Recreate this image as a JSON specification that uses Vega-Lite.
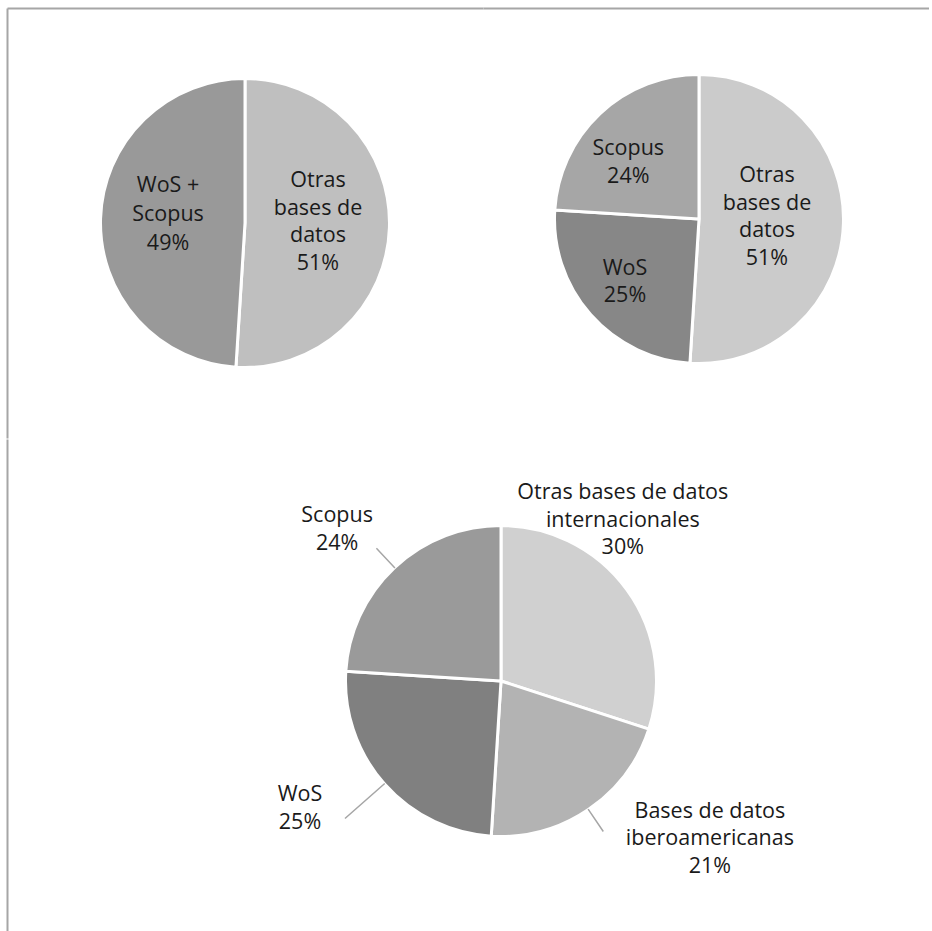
{
  "$schema": "https://vega.github.io/schema/vega-lite/v6.json",
  "padding": {"left": 7, "top": 8, "right": 0, "bottom": 0},
  "autosize": {"type": "pad"},
  "background": "white",
  "config": {
    "view": {"stroke": null},
    "text": {"font": "Open Sans", "fontSize": 21.5, "fill": "#1a1a1a", "lineHeight": 27.5, "lineBreak": "\n", "align": "center", "baseline": "middle"},
    "axis": {"domainColor": "#a6a6a6", "domainWidth": 2, "ticks": false, "labels": false, "grid": false, "minExtent": 0, "maxExtent": 0, "offset": 0, "tickSize": 0, "labelPadding": 0}
  },
  "datasets": {
    "resumen": [
      {"categoria": "Otras bases de datos", "etiqueta": "Otras\nbases de\ndatos\n51%", "proporcion": 0.51, "orden": 1},
      {"categoria": "WoS + Scopus", "etiqueta": "WoS +\nScopus\n49%", "proporcion": 0.49, "orden": 2}
    ],
    "wos_scopus": [
      {"categoria": "Otras bases de datos", "etiqueta": "Otras\nbases de\ndatos\n51%", "proporcion": 0.51, "orden": 1},
      {"categoria": "WoS", "etiqueta": "WoS\n25%", "proporcion": 0.25, "orden": 2},
      {"categoria": "Scopus", "etiqueta": "Scopus\n24%", "proporcion": 0.24, "orden": 3}
    ],
    "detalle": [
      {"categoria": "Otras bases de datos internacionales", "etiqueta": "Otras bases de datos\ninternacionales\n30%", "proporcion": 0.30, "orden": 1},
      {"categoria": "Bases de datos iberoamericanas", "etiqueta": "Bases de datos\niberoamericanas\n21%", "proporcion": 0.21, "orden": 2},
      {"categoria": "WoS", "etiqueta": "WoS\n25%", "proporcion": 0.25, "orden": 3},
      {"categoria": "Scopus", "etiqueta": "Scopus\n24%", "proporcion": 0.24, "orden": 4}
    ]
  },
  "spacing": -11,
  "resolve": {"scale": {"color": "independent", "theta": "independent"}},
  "vconcat": [
    {
      "spacing": 0,
      "bounds": "flush",
      "resolve": {"scale": {"color": "independent", "theta": "independent"}},
      "hconcat": [
        {
          "width": 476,
          "height": 430,
          "data": {"name": "resumen"},
          "layer": [
            {
              "mark": {"type": "point", "opacity": 0},
              "encoding": {
                "x": {"field": "proporcion", "type": "quantitative", "axis": {"orient": "top", "title": null}},
                "y": {"field": "proporcion", "type": "quantitative", "axis": {"orient": "left", "title": null}}
              }
            },
            {
              "mark": {"type": "arc", "outerRadius": 144.5, "stroke": "#ffffff", "strokeWidth": 3, "strokeJoin": "bevel"},
              "encoding": {
                "theta": {"field": "proporcion", "type": "quantitative", "stack": true},
                "order": {"field": "orden", "type": "quantitative"},
                "color": {"field": "categoria", "type": "nominal", "legend": null,
                  "scale": {"domain": ["Otras bases de datos", "WoS + Scopus"], "range": ["#bfbfbf", "#999999"]}}
              }
            },
            {
              "mark": {"type": "text", "radius": 73, "dy": -44},
              "encoding": {
                "theta": {"field": "proporcion", "type": "quantitative", "stack": true},
                "order": {"field": "orden", "type": "quantitative"},
                "text": {"condition": {"test": "datum.orden === 1", "field": "etiqueta", "type": "nominal"}, "value": ""}
              }
            },
            {
              "mark": {"type": "text", "radius": 77, "dy": -35, "lineHeight": 29},
              "encoding": {
                "theta": {"field": "proporcion", "type": "quantitative", "stack": true},
                "order": {"field": "orden", "type": "quantitative"},
                "text": {"condition": {"test": "datum.orden === 2", "field": "etiqueta", "type": "nominal"}, "value": ""}
              }
            }
          ]
        },
        {
          "width": 432,
          "height": 422,
          "data": {"name": "wos_scopus"},
          "layer": [
            {
              "mark": {"type": "point", "opacity": 0},
              "encoding": {
                "x": {"field": "proporcion", "type": "quantitative", "scale": {"range": [0, 446]}, "axis": {"orient": "top", "title": null}}
              }
            },
            {
              "mark": {"type": "arc", "outerRadius": 144.5, "stroke": "#ffffff", "strokeWidth": 3, "strokeJoin": "bevel"},
              "encoding": {
                "theta": {"field": "proporcion", "type": "quantitative", "stack": true},
                "order": {"field": "orden", "type": "quantitative"},
                "color": {"field": "categoria", "type": "nominal", "legend": null,
                  "scale": {"domain": ["Otras bases de datos", "WoS", "Scopus"], "range": ["#cbcbcb", "#878787", "#a6a6a6"]}}
              }
            },
            {
              "mark": {"type": "text", "radius": 68, "dy": -45},
              "encoding": {
                "theta": {"field": "proporcion", "type": "quantitative", "stack": true},
                "order": {"field": "orden", "type": "quantitative"},
                "text": {"condition": {"test": "datum.orden === 1", "field": "etiqueta", "type": "nominal"}, "value": ""}
              }
            },
            {
              "mark": {"type": "text", "radius": 96, "dx": -2, "dy": -13.5},
              "encoding": {
                "theta": {"field": "proporcion", "type": "quantitative", "stack": true},
                "order": {"field": "orden", "type": "quantitative"},
                "text": {"condition": {"test": "datum.orden === 2", "field": "etiqueta", "type": "nominal"}, "value": ""}
              }
            },
            {
              "mark": {"type": "text", "radius": 96, "dx": -5, "dy": 0},
              "encoding": {
                "theta": {"field": "proporcion", "type": "quantitative", "stack": true},
                "order": {"field": "orden", "type": "quantitative"},
                "text": {"condition": {"test": "datum.orden === 3", "field": "etiqueta", "type": "nominal"}, "value": ""}
              }
            }
          ]
        }
      ]
    },
    {
      "spacing": 0,
      "bounds": "flush",
      "resolve": {"scale": {"color": "independent", "theta": "independent"}},
      "hconcat": [
        {
          "width": 324,
          "height": 500,
          "data": {"name": "detalle"},
          "mark": {"type": "point", "opacity": 0},
          "encoding": {
            "y": {"field": "proporcion", "type": "quantitative", "axis": {"orient": "left", "title": null}}
          }
        },
        {
          "width": 340,
          "height": 484,
          "data": {"name": "detalle"},
          "layer": [
            {
              "mark": {"type": "arc", "outerRadius": 155.5, "stroke": "#ffffff", "strokeWidth": 3, "strokeJoin": "bevel"},
              "encoding": {
                "theta": {"field": "proporcion", "type": "quantitative", "stack": true},
                "order": {"field": "orden", "type": "quantitative"},
                "color": {"field": "categoria", "type": "nominal", "legend": null,
                  "scale": {"domain": ["Otras bases de datos internacionales", "Bases de datos iberoamericanas", "WoS", "Scopus"], "range": ["#d0d0d0", "#b3b3b3", "#808080", "#9a9a9a"]}}
              }
            },
            {
              "mark": {"type": "arc", "innerRadius": 155, "outerRadius": 182, "padAngle": 3.1, "filled": false, "stroke": "#a6a6a6", "strokeWidth": 1.5},
              "encoding": {
                "theta": {"field": "proporcion", "type": "quantitative", "stack": true},
                "order": {"field": "orden", "type": "quantitative"},
                "strokeOpacity": {"condition": {"test": "datum.orden === 2 || datum.orden === 4", "value": 1}, "value": 0}
              }
            },
            {
              "mark": {"type": "arc", "innerRadius": 155, "outerRadius": 208, "padAngle": 3.1, "filled": false, "stroke": "#a6a6a6", "strokeWidth": 1.5},
              "encoding": {
                "theta": {"field": "proporcion", "type": "quantitative", "stack": true},
                "order": {"field": "orden", "type": "quantitative"},
                "strokeOpacity": {"condition": {"test": "datum.orden === 3", "value": 1}, "value": 0}
              }
            },
            {
              "mark": {"type": "text", "radius": 200, "dx": -40, "dy": -70},
              "encoding": {
                "theta": {"field": "proporcion", "type": "quantitative", "stack": true},
                "order": {"field": "orden", "type": "quantitative"},
                "text": {"condition": {"test": "datum.orden === 1", "field": "etiqueta", "type": "nominal"}, "value": ""}
              }
            },
            {
              "mark": {"type": "text", "radius": 240, "dx": 74, "dy": -67.5},
              "encoding": {
                "theta": {"field": "proporcion", "type": "quantitative", "stack": true},
                "order": {"field": "orden", "type": "quantitative"},
                "text": {"condition": {"test": "datum.orden === 2", "field": "etiqueta", "type": "nominal"}, "value": ""}
              }
            },
            {
              "mark": {"type": "text", "radius": 200, "dx": -51, "dy": -18},
              "encoding": {
                "theta": {"field": "proporcion", "type": "quantitative", "stack": true},
                "order": {"field": "orden", "type": "quantitative"},
                "text": {"condition": {"test": "datum.orden === 3", "field": "etiqueta", "type": "nominal"}, "value": ""}
              }
            },
            {
              "mark": {"type": "text", "radius": 200, "dx": -27, "dy": -19},
              "encoding": {
                "theta": {"field": "proporcion", "type": "quantitative", "stack": true},
                "order": {"field": "orden", "type": "quantitative"},
                "text": {"condition": {"test": "datum.orden === 4", "field": "etiqueta", "type": "nominal"}, "value": ""}
              }
            }
          ]
        }
      ]
    }
  ]
}
